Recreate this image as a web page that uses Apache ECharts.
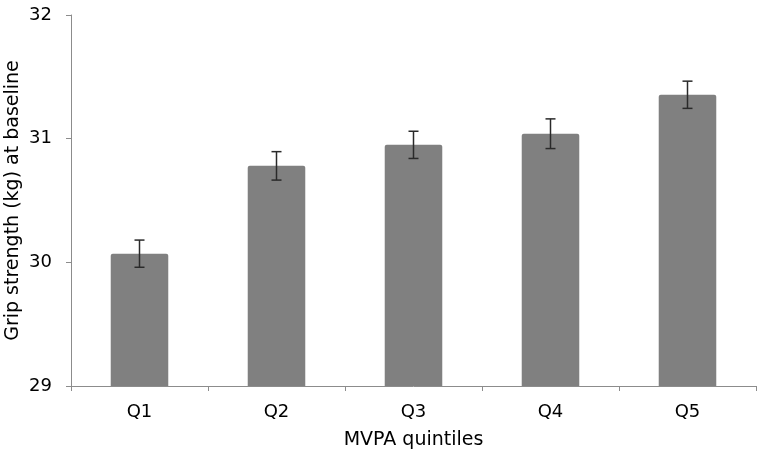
<!DOCTYPE html>
<html><head><meta charset="utf-8">
<script src="https://cdn.jsdelivr.net/npm/echarts@6/dist/echarts.min.js"></script>
<style>html,body{margin:0;padding:0;background:#fff}#c{width:760px;height:453px}</style>
</head><body><div id="c"></div>
<script>
const categories = ['Q1','Q2','Q3','Q4','Q5'];
const means = [30.07, 30.78, 30.95, 31.04, 31.355];
const errors = [0.11, 0.115, 0.11, 0.12, 0.11];
const yTicks = [29, 30, 31, 32];

const chart = echarts.init(document.getElementById('c'));
const FONT = 'DejaVu Sans';
chart.setOption({
  animation: false,
  textStyle: { fontFamily: FONT },
  grid: { left: 71, right: 4, top: 15, bottom: 67, containLabel: false, outerBoundsMode: 'none' },
  xAxis: {
    type: 'category', data: categories,
    name: 'MVPA quintiles', nameLocation: 'middle', nameGap: 45, nameMoveOverlap: false,
    nameTextStyle: { fontSize: 19, color: '#000', fontFamily: FONT },
    axisLine: { lineStyle: { color: '#8c8c8c', width: 1 } },
    axisTick: { show: true, length: 5, lineStyle: { color: '#8c8c8c' } },
    axisLabel: { fontSize: 18, color: '#000', margin: 17, fontFamily: FONT }
  },
  yAxis: {
    type: 'value', min: yTicks[0], max: yTicks[yTicks.length-1], interval: 1,
    name: 'Grip strength (kg) at baseline', nameLocation: 'middle', nameGap: 48, nameMoveOverlap: false,
    nameTextStyle: { fontSize: 19, color: '#000', fontFamily: FONT },
    axisLine: { show: true, lineStyle: { color: '#8c8c8c', width: 1 } },
    axisTick: { show: true, length: 5, lineStyle: { color: '#8c8c8c' } },
    splitLine: { show: false },
    axisLabel: { fontSize: 18, color: '#000', margin: 19, fontFamily: FONT }
  },
  series: [
    {
      type: 'bar', data: means, barWidth: '42%',
      itemStyle: { color: '#808080', borderRadius: [2,2,0,0] }
    },
    {
      type: 'custom',
      data: means.map((m, i) => [i, m - errors[i], m + errors[i]]),
      renderItem: function (params, api) {
        const x = api.value(0);
        const lo = api.coord([x, api.value(1)]);
        const hi = api.coord([x, api.value(2)]);
        const hw = 5;
        const style = { stroke: '#2a2a2a', lineWidth: 1.5, fill: null };
        return {
          type: 'group',
          children: [
            { type: 'line', shape: { x1: hi[0], y1: hi[1], x2: lo[0], y2: lo[1] }, style },
            { type: 'line', shape: { x1: hi[0]-hw, y1: hi[1], x2: hi[0]+hw, y2: hi[1] }, style },
            { type: 'line', shape: { x1: lo[0]-hw, y1: lo[1], x2: lo[0]+hw, y2: lo[1] }, style }
          ]
        };
      },
      z: 10
    }
  ]
});
</script></body></html>
